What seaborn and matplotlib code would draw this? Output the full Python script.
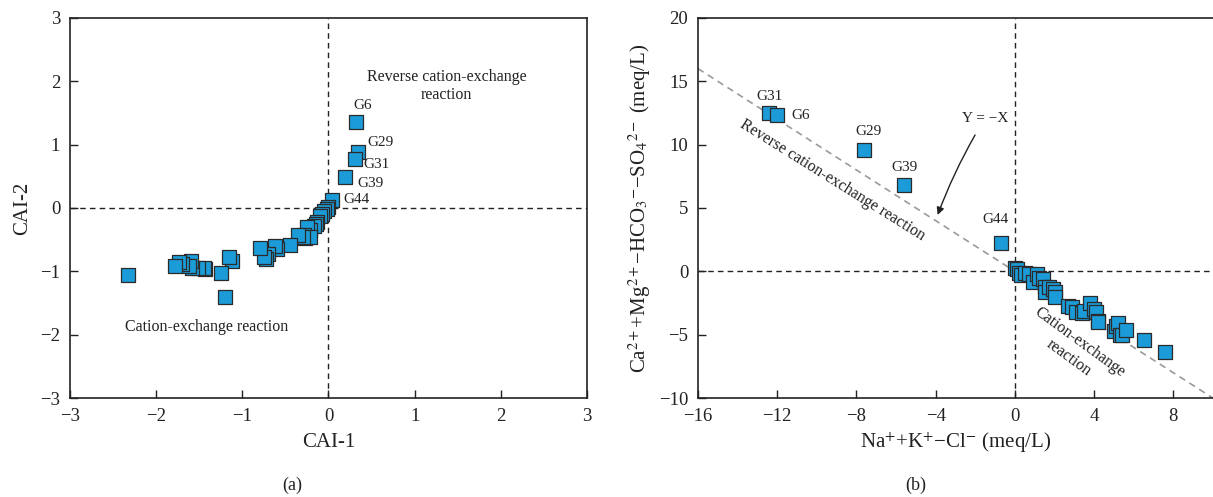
import matplotlib
matplotlib.use("Agg")
import matplotlib.pyplot as plt
import numpy as np
import pandas as pd
import seaborn as sns

# ---------------------------------------------------------------
# Data
# ---------------------------------------------------------------
# panel (a): CAI-1 vs CAI-2
cai1 = [0.32, 0.34, 0.31, 0.19, 0.04,
        0.00, -0.02, -0.05, -0.08, -0.10, -0.13, -0.15, -0.17, -0.22,
        -0.25, -0.27, -0.28, -0.22, -0.30, -0.35, -0.45, -0.60, -0.62,
        -0.70, -0.72, -0.75, -0.80, -1.12, -1.15, -1.20, -1.25, -1.43,
        -1.45, -1.52, -1.58, -1.60, -1.62, -1.70, -1.73, -1.78, -2.33]
cai2 = [1.35, 0.88, 0.78, 0.49, 0.13,
        0.02, -0.01, -0.05, -0.10, -0.12, -0.22, -0.25, -0.28, -0.35,
        -0.30, -0.48, -0.42, -0.45, -0.45, -0.42, -0.58, -0.65, -0.60,
        -0.72, -0.80, -0.78, -0.63, -0.83, -0.77, -1.40, -1.02, -0.97,
        -0.95, -0.95, -0.95, -0.83, -0.92, -0.88, -0.85, -0.92, -1.06]

# panel (b): Na+K-Cl vs Ca+Mg-HCO3-SO4
nak_cl = [-12.4, -12.0, -7.6, -5.6, -0.7,
          0.0, 0.1, 0.2, 0.3, 0.5, 0.7, 0.9, 1.1, 1.2, 1.4, 1.5, 1.5,
          1.7, 1.9, 2.0, 2.0, 2.7, 2.9, 3.1, 3.4, 3.5, 3.8, 4.0, 4.1,
          4.2, 4.2, 5.0, 5.1, 5.2, 5.3, 5.4, 5.6, 6.5, 7.6]
camg_hco3 = [12.5, 12.3, 9.6, 6.8, 2.2,
             0.3, 0.2, -0.1, -0.3, -0.1, -0.2, -0.8, -0.2, -0.5, -0.6,
             -1.2, -1.6, -1.2, -1.4, -1.6, -2.0, -2.7, -2.8, -3.2, -3.3,
             -3.1, -2.5, -3.0, -3.2, -3.9, -4.0, -4.7, -4.3, -4.1, -5.0,
             -5.0, -4.6, -5.4, -6.4]

# sample labels
labels_a = ["G6", "G29", "G31", "G39", "G44"]
label_pos_a = [(0.40, 1.61), (0.60, 1.03), (0.56, 0.68), (0.49, 0.39), (0.32, 0.13)]
labels_b = ["G31", "G6", "G29", "G39", "G44"]
label_pos_b = [(-12.4, 13.8), (-10.8, 12.3), (-7.4, 11.0), (-5.55, 8.2), (-1.0, 4.1)]

df_a = pd.DataFrame({"CAI-1": cai1, "CAI-2": cai2})
df_b = pd.DataFrame({"x": nak_cl, "y": camg_hco3})

# ---------------------------------------------------------------
# Style
# ---------------------------------------------------------------
sns.set_theme(style="ticks")
plt.rcParams["font.family"] = ["Liberation Serif", "DejaVu Serif"]
plt.rcParams["mathtext.fontset"] = "stix"
plt.rcParams["axes.unicode_minus"] = True

fill = "#1b9bd7"
edge = "#2b2b2b"
ink = "#222222"

fig = plt.figure(figsize=(12.13, 4.97), dpi=100)
ax1 = fig.add_axes([0.0577, 0.199, 0.4262, 0.765])
ax2 = fig.add_axes([0.5754, 0.199, 0.4246, 0.765])

for ax in (ax1, ax2):
    ax.tick_params(direction="in", length=5.5, width=1, labelsize=13.5,
                   pad=7, colors=ink)
    for s in ax.spines.values():
        s.set_linewidth(1.2)
        s.set_color(ink)

# --- panel (a) ---
ax1.axhline(0, color=ink, ls=(0, (4, 3)), lw=1, zorder=1)
ax1.axvline(0, color=ink, ls=(0, (4, 3)), lw=1, zorder=1)
sns.scatterplot(data=df_a, x="CAI-1", y="CAI-2", ax=ax1, marker="s", s=88,
                color=fill, edgecolor=edge, linewidth=0.9, zorder=3)
ax1.set_xlim(-3, 3)
ax1.set_ylim(-3, 3)
ax1.set_xticks(range(-3, 4))
ax1.set_yticks(range(-3, 4))
ax1.set_xlabel("CAI-1", fontsize=15, color=ink, labelpad=6)
ax1.set_ylabel("CAI-2", fontsize=15, color=ink, labelpad=6)
for lab, (tx, ty) in zip(labels_a, label_pos_a):
    ax1.text(tx, ty, lab, fontsize=11, ha="center", va="center", color=ink)
ax1.text(1.37, 1.92, "Reverse cation-exchange\nreaction", fontsize=11.5,
         ha="center", va="center", color=ink, linespacing=1.15)
ax1.text(-1.42, -1.88, "Cation-exchange reaction", fontsize=11.5,
         ha="center", va="center", color=ink)

# --- panel (b) ---
ax2.axhline(0, color=ink, ls=(0, (4, 3)), lw=1, zorder=1)
ax2.axvline(0, color=ink, ls=(0, (4, 3)), lw=1, zorder=1)
line_x = np.array([-16, 10])
ax2.plot(line_x, -line_x, color="#9a9a9a", ls=(0, (4, 3)), lw=1.2, zorder=2)
sns.scatterplot(data=df_b, x="x", y="y", ax=ax2, marker="s", s=88,
                color=fill, edgecolor=edge, linewidth=0.9, zorder=3)
ax2.set_xlim(-16, 10)
ax2.set_ylim(-10, 20)
ax2.set_xticks(range(-16, 9, 4))
ax2.set_yticks(range(-10, 21, 5))
ax2.spines["right"].set_visible(False)
ax2.set_xlabel(r"Na$^{+}$+K$^{+}$−Cl$^{-}$ (meq/L)", fontsize=15, color=ink,
               labelpad=4)
ax2.set_ylabel(r"Ca$^{2+}$+Mg$^{2+}$−HCO$_3$$^{-}$−SO$_4$$^{2-}$ (meq/L)",
               fontsize=15, color=ink, labelpad=4)
for lab, (tx, ty) in zip(labels_b, label_pos_b):
    ax2.text(tx, ty, lab, fontsize=11, ha="center", va="center", color=ink)
ax2.text(-9.2, 7.2, "Reverse cation-exchange reaction", fontsize=11.5,
         rotation=-32, ha="center", va="center", rotation_mode="anchor",
         color=ink)
ax2.text(3.0, -6.2, "Cation-exchange\nreaction", fontsize=11.5,
         rotation=-36, ha="center", va="center", rotation_mode="anchor",
         color=ink, linespacing=1.3)
ax2.annotate("Y = −X", xy=(-3.9, 4.45), xytext=(-1.5, 12.1), fontsize=11,
             ha="center", va="center", color=ink,
             arrowprops=dict(arrowstyle="-|>", color=ink, lw=1,
                             shrinkA=6, shrinkB=0,
                             connectionstyle="arc3,rad=0.05"))

fig.text(0.241, 0.024, "(a)", fontsize=13, ha="center", va="center", color=ink)
fig.text(0.755, 0.024, "(b)", fontsize=13, ha="center", va="center", color=ink)

fig.savefig("out.png", dpi=100)
